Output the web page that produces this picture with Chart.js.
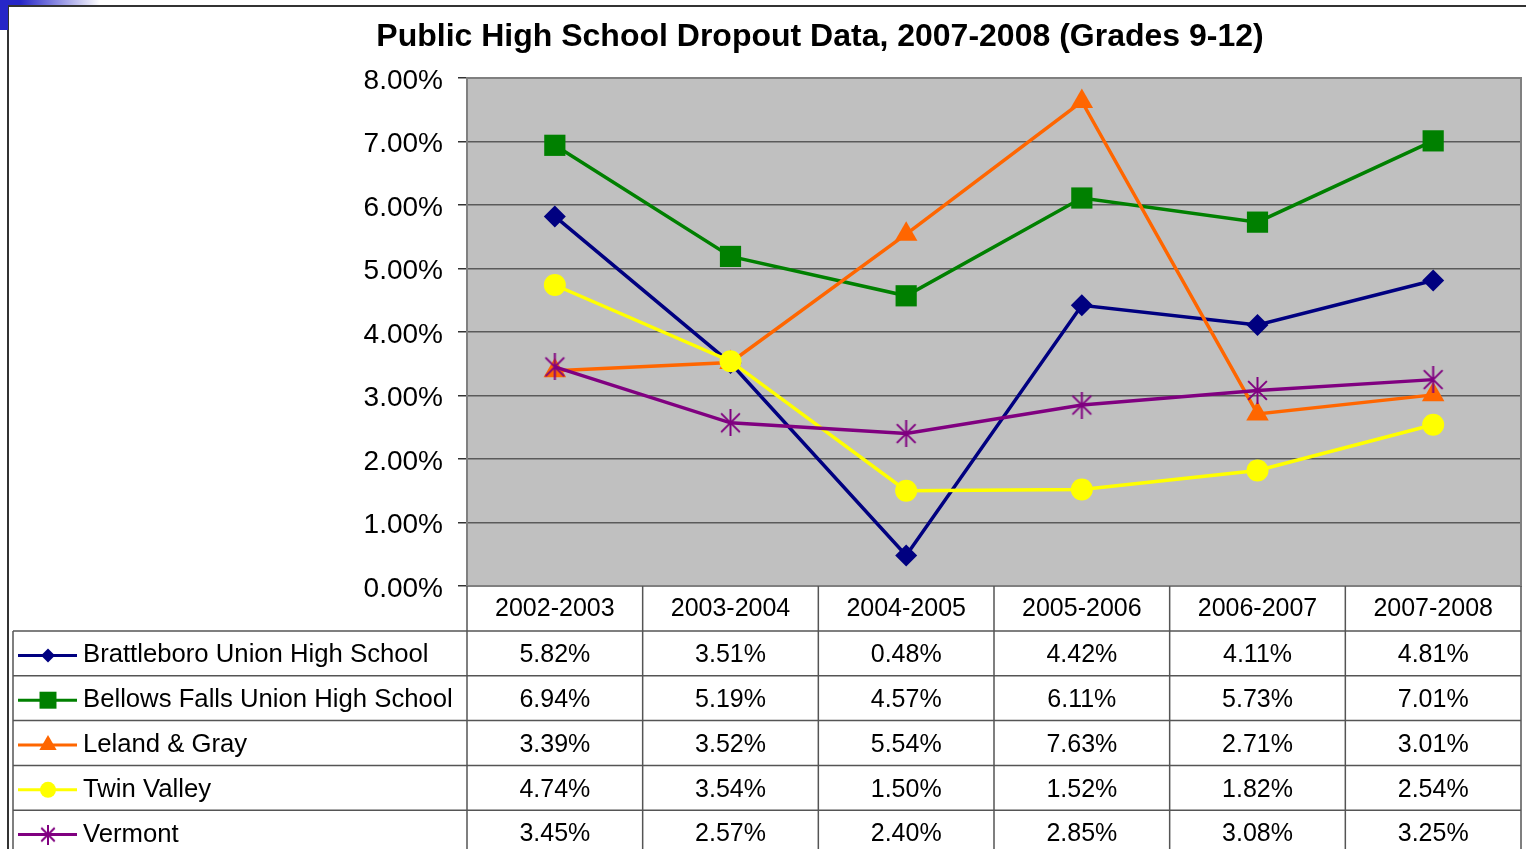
<!DOCTYPE html>
<html>
<head>
<meta charset="utf-8">
<script src="https://cdn.jsdelivr.net/npm/chart.js@4.4.0/dist/chart.umd.min.js"></script>
<style>
  html, body { margin: 0; padding: 0; background: #fff; overflow: hidden; }
  #wrap { position: relative; width: 1526px; height: 849px; }
  #chart { position: absolute; left: 0; top: 0; }
  .blueTop { position: absolute; left: 0; top: 0; width: 100px; height: 5px;
             background: linear-gradient(to right, #2626c8 0%, #2626c8 20%, #ffffff 100%); }
  .blueLeft { position: absolute; left: 0; top: 0; width: 8px; height: 30px; background: #2626c8; }
</style>
</head>
<body>
<div id="wrap">
  <canvas id="chart" width="1526" height="849"></canvas>
  <div class="blueTop"></div>
  <div class="blueLeft"></div>
</div>
<script>
// chart data
const categories = ['2002-2003', '2003-2004', '2004-2005', '2005-2006', '2006-2007', '2007-2008'];
const brattleboro = [5.82, 3.51, 0.48, 4.42, 4.11, 4.81];
const bellowsFalls = [6.94, 5.19, 4.57, 6.11, 5.73, 7.01];
const lelandGray = [3.39, 3.52, 5.54, 7.63, 2.71, 3.01];
const twinValley = [4.74, 3.54, 1.50, 1.52, 1.82, 2.54];
const vermont = [3.45, 2.57, 2.40, 2.85, 3.08, 3.25];
const seriesNames = ['Brattleboro Union High School', 'Bellows Falls Union High School', 'Leland & Gray', 'Twin Valley', 'Vermont'];
const seriesValues = [brattleboro, bellowsFalls, lelandGray, twinValley, vermont];
const seriesColors = ['#000080', '#008000', '#FF6600', '#FFFF00', '#800080'];
const yMin = 0, yMax = 8, yStep = 1;
const title = 'Public High School Dropout Data, 2007-2008 (Grades 9-12)';

const FONT = "'Liberation Sans', Arial, Helvetica, sans-serif";

function makeStar(size, color) {
    var c = document.createElement('canvas');
    c.width = size; c.height = size;
    var g = c.getContext('2d');
    var m = size / 2, d = size / 2 - 1;
    g.strokeStyle = color;
    g.lineWidth = 2;
    g.beginPath();
    g.moveTo(m, 0); g.lineTo(m, size);
    g.moveTo(m - d * 0.75, m - d * 0.75); g.lineTo(m + d * 0.75, m + d * 0.75);
    g.moveTo(m + d * 0.75, m - d * 0.75); g.lineTo(m - d * 0.75, m + d * 0.75);
    g.stroke();
    return c;
}

const bigStar = makeStar(27, seriesColors[4]);
const smallStar = makeStar(20, seriesColors[4]);

const pointStyles = ['rectRot', 'rect', 'triangle', 'circle', bigStar];
const pointRadii = [11, 15, 13, 11, 13];
const keyStyles = ['rectRot', 'rect', 'triangle', 'circle', smallStar];
const keyRadii = [7, 12, 10, 8, 10];

const datasets = seriesNames.map(function (name, i) {
    return {
        label: name,
        data: seriesValues[i],
        borderColor: seriesColors[i],
        backgroundColor: seriesColors[i],
        borderWidth: 3.5,
        pointStyle: pointStyles[i],
        pointRadius: pointRadii[i],
        pointHoverRadius: pointRadii[i],
        pointBorderWidth: 0,
        pointBackgroundColor: seriesColors[i],
        tension: 0,
        order: seriesNames.length - 1 - i
    };
});

const plotBox = {
    id: 'plotBox',
    beforeDraw(chart) {
        const a = chart.chartArea, ctx = chart.ctx;
        ctx.save();
        ctx.fillStyle = '#C0C0C0';
        ctx.fillRect(a.left, a.top, a.right - a.left, a.bottom - a.top);
        // outer frame of the slide chart
        ctx.strokeStyle = '#333';
        ctx.lineWidth = 2;
        ctx.beginPath();
        ctx.moveTo(8, 849); ctx.lineTo(8, 6); ctx.lineTo(1526, 6);
        ctx.stroke();
        ctx.restore();
    },
    afterDatasetsDraw(chart) {
        const a = chart.chartArea, ctx = chart.ctx;
        ctx.save();
        ctx.strokeStyle = '#808080';
        ctx.lineWidth = 2;
        ctx.strokeRect(a.left, a.top, a.right - a.left, a.bottom - a.top);
        ctx.restore();
    },
    afterDraw(chart) {
        const a = chart.chartArea, ctx = chart.ctx, x = chart.scales.x;
        const n = categories.length;
        const rowTop = a.bottom + 45, rowH = 44.8, tableLeft = 13;
        ctx.save();

        // title
        ctx.fillStyle = '#000';
        ctx.font = 'bold 32px ' + FONT;
        ctx.textAlign = 'center';
        ctx.textBaseline = 'middle';
        ctx.fillText(title, 820, 37);

        // column edges from the category scale
        const edges = [a.left];
        for (let i = 1; i < n; i++) {
            edges.push((x.getPixelForValue(i - 1) + x.getPixelForValue(i)) / 2);
        }
        edges.push(a.right);

        ctx.strokeStyle = '#555';
        ctx.lineWidth = 1.5;
        ctx.beginPath();
        edges.forEach(function (ex) { ctx.moveTo(ex, a.bottom); ctx.lineTo(ex, 849); });
        ctx.moveTo(tableLeft, rowTop); ctx.lineTo(tableLeft, 849);
        for (let r = 0; r < seriesNames.length; r++) {
            ctx.moveTo(tableLeft, rowTop + r * rowH);
            ctx.lineTo(a.right, rowTop + r * rowH);
        }
        ctx.stroke();

        // header labels
        ctx.font = '25px ' + FONT;
        ctx.fillStyle = '#000';
        categories.forEach(function (c, i) {
            ctx.fillText(c, x.getPixelForValue(i), (a.bottom + rowTop) / 2 + 1);
        });

        // rows
        seriesNames.forEach(function (name, r) {
            const cy = rowTop + r * rowH + rowH / 2 + 2;
            // legend key
            ctx.strokeStyle = seriesColors[r];
            ctx.fillStyle = seriesColors[r];
            ctx.lineWidth = 3;
            ctx.beginPath();
            ctx.moveTo(18, cy); ctx.lineTo(77, cy);
            ctx.stroke();
            Chart.helpers.drawPoint(ctx, { pointStyle: keyStyles[r], radius: keyRadii[r], rotation: 0, borderWidth: 0 }, 48, cy);

            ctx.fillStyle = '#000';
            ctx.textAlign = 'left';
            ctx.font = '25.7px ' + FONT;
            ctx.fillText(name, 83, cy);
            ctx.textAlign = 'center';
            ctx.font = '25px ' + FONT;
            seriesValues[r].forEach(function (v, i) {
                ctx.fillText(v.toFixed(2) + '%', x.getPixelForValue(i), cy);
            });
        });
        ctx.restore();
    }
};

const ctx = document.getElementById('chart').getContext('2d');
new Chart(ctx, {
    type: 'line',
    data: { labels: categories, datasets: datasets },
    options: {
        responsive: false,
        animation: false,
        events: [],
        layout: { autoPadding: false, padding: { left: 0, top: 78, right: 5, bottom: 263 } },
        plugins: { legend: { display: false }, title: { display: false }, tooltip: { enabled: false } },
        scales: {
            x: { type: 'category', offset: true, display: false },
            y: {
                min: yMin, max: yMax,
                afterFit(scale) { scale.width = 467; },
                border: { display: false },
                grid: { color: '#5a5a5a', lineWidth: 1.5, tickLength: 9, tickColor: '#333', tickWidth: 1.5 },
                ticks: {
                    stepSize: yStep,
                    padding: 15,
                    labelOffset: 3,
                    color: '#000',
                    font: { family: FONT, size: 28 },
                    callback: function (v) { return v.toFixed(2) + '%'; }
                }
            }
        }
    },
    plugins: [plotBox]
});
</script>
</body>
</html>
